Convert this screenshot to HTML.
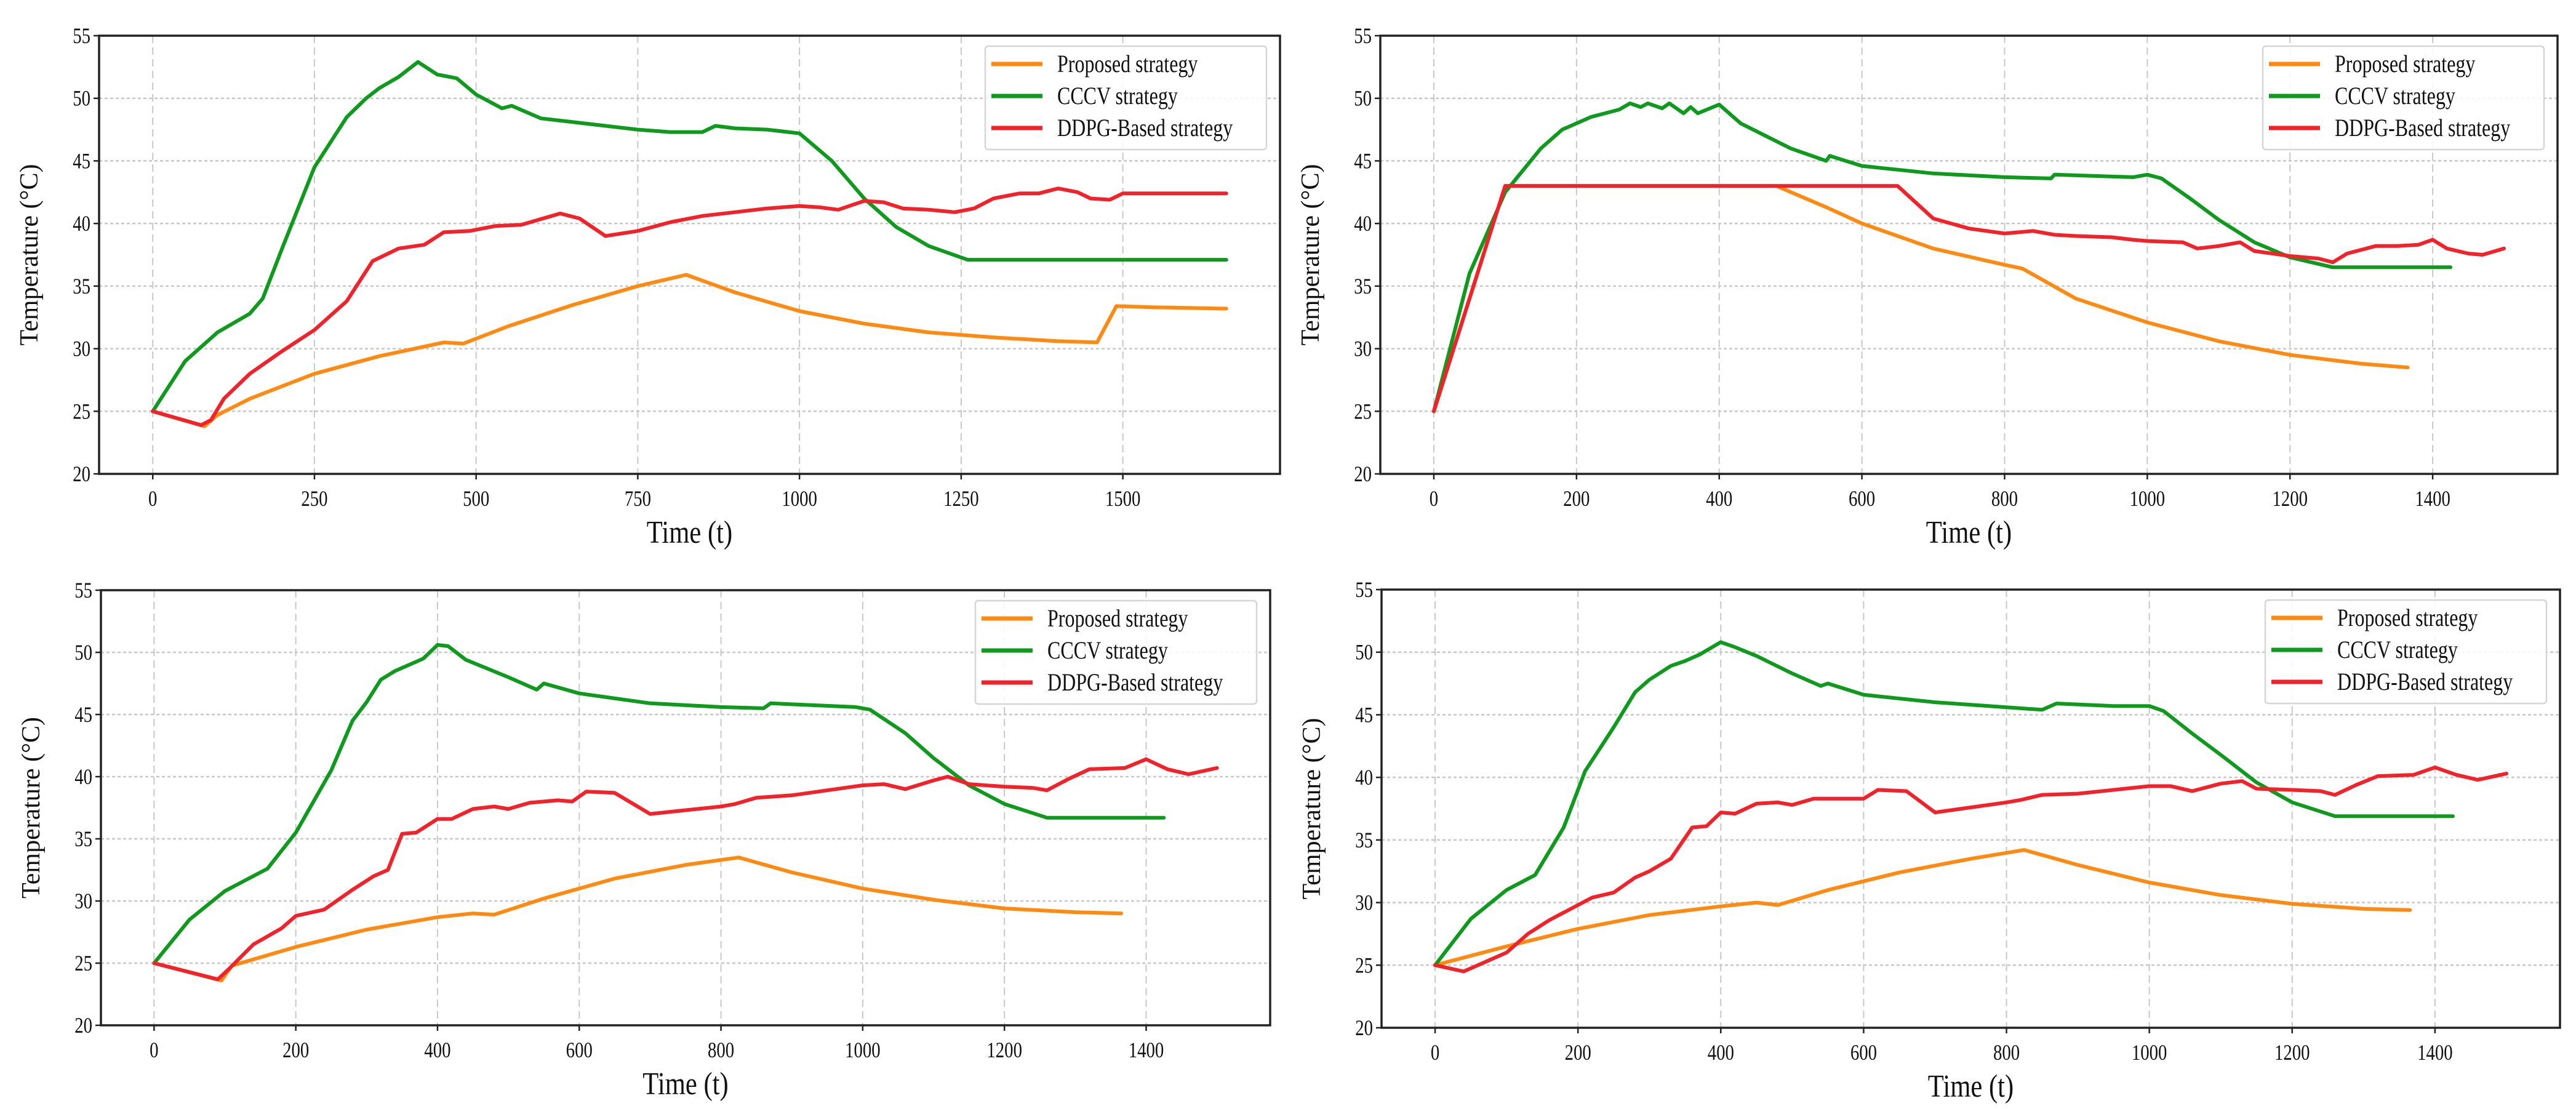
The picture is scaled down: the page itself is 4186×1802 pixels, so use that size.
<!DOCTYPE html>
<html><head><meta charset="utf-8"><style>
html,body{margin:0;padding:0;background:#fff;}
svg{display:block;font-family:"Liberation Serif",serif;}
</style></head><body>
<svg id="fig" width="4186" height="1802" viewBox="0 0 4186 1802" xmlns="http://www.w3.org/2000/svg"></svg>
<script>
// ---- Data (t, temperature) ----
const tlProposed=[[0,25],[80,23.8],[100,24.7],[150,26],[250,28],[350,29.4],[450,30.5],[480,30.4],[550,31.8],[650,33.5],[750,35],[825,35.9],[900,34.5],[1000,33],[1100,32],[1200,31.3],[1300,30.9],[1400,30.6],[1460,30.5],[1490,33.4],[1550,33.3],[1660,33.2]];
const tlCCCV=[[0,25],[50,29],[100,31.3],[150,32.8],[170,34],[200,38],[250,44.5],[300,48.5],[330,50],[350,50.8],[380,51.7],[410,52.9],[440,51.9],[470,51.6],[500,50.3],[540,49.2],[555,49.4],[600,48.4],[650,48.1],[700,47.8],[750,47.5],[800,47.3],[850,47.3],[870,47.8],[900,47.6],[950,47.5],[1000,47.2],[1050,45],[1100,42],[1150,39.7],[1200,38.2],[1260,37.1],[1660,37.1]];
const tlDDPG=[[0,25],[75,23.9],[90,24.3],[110,26],[150,28],[200,29.8],[250,31.5],[300,33.8],[340,37],[380,38],[420,38.3],[450,39.3],[490,39.4],[530,39.8],[570,39.9],[630,40.8],[660,40.4],[700,39],[750,39.4],[800,40.1],[850,40.6],[900,40.9],[950,41.2],[1000,41.4],[1030,41.3],[1060,41.1],[1100,41.8],[1130,41.7],[1160,41.2],[1200,41.1],[1240,40.9],[1270,41.2],[1300,42],[1340,42.4],[1370,42.4],[1400,42.8],[1430,42.5],[1450,42],[1480,41.9],[1500,42.4],[1660,42.4]];
const trProposed=[[0,25],[100,43],[480,43],[550,41.3],[600,40],[700,38],[800,36.7],[825,36.4],[900,34],[1000,32.1],[1100,30.6],[1200,29.5],[1300,28.8],[1365,28.5]];
const trCCCV=[[0,25],[50,36],[100,42.5],[150,46],[180,47.5],[220,48.5],[260,49.1],[275,49.6],[290,49.3],[300,49.6],[320,49.2],[330,49.6],[350,48.8],[360,49.3],[370,48.8],[400,49.5],[430,48],[500,46],[550,45],[555,45.4],[600,44.6],[700,44],[800,43.7],[865,43.6],[870,43.9],[980,43.7],[1000,43.9],[1020,43.6],[1060,42],[1100,40.3],[1150,38.5],[1200,37.3],[1260,36.5],[1425,36.5]];
const trDDPG=[[0,25],[100,43],[650,43],[700,40.4],[750,39.6],[800,39.2],[840,39.4],[870,39.1],[900,39],[950,38.9],[980,38.7],[1000,38.6],[1050,38.5],[1070,38],[1100,38.2],[1130,38.5],[1150,37.8],[1200,37.4],[1240,37.2],[1260,36.9],[1280,37.6],[1320,38.2],[1350,38.2],[1380,38.3],[1400,38.7],[1420,38],[1450,37.6],[1470,37.5],[1500,38]];
const blProposed=[[0,25],[95,23.6],[110,24.8],[200,26.3],[300,27.7],[400,28.7],[450,29],[480,28.9],[550,30.2],[650,31.8],[750,32.9],[825,33.5],[900,32.3],[1000,31],[1100,30.1],[1200,29.4],[1300,29.1],[1365,29]];
const blCCCV=[[0,25],[50,28.5],[100,30.8],[160,32.6],[200,35.5],[250,40.5],[280,44.5],[300,46],[320,47.8],[340,48.5],[360,49],[380,49.5],[400,50.6],[415,50.5],[440,49.4],[500,48],[540,47],[550,47.5],[600,46.7],[700,45.9],[800,45.6],[860,45.5],[870,45.9],[950,45.7],[990,45.6],[1010,45.4],[1060,43.5],[1100,41.5],[1150,39.3],[1200,37.8],[1260,36.7],[1425,36.7]];
const blDDPG=[[0,25],[90,23.7],[105,24.5],[140,26.5],[180,27.8],[200,28.8],[240,29.3],[280,30.9],[310,32],[330,32.5],[350,35.4],[370,35.5],[400,36.6],[420,36.6],[450,37.4],[480,37.6],[500,37.4],[530,37.9],[570,38.1],[590,38],[610,38.8],[650,38.7],[700,37],[750,37.3],[800,37.6],[820,37.8],[850,38.3],[900,38.5],[950,38.9],[1000,39.3],[1030,39.4],[1060,39],[1100,39.7],[1120,40],[1150,39.4],[1200,39.2],[1240,39.1],[1260,38.9],[1290,39.8],[1320,40.6],[1370,40.7],[1400,41.4],[1430,40.6],[1460,40.2],[1500,40.7]];
const brProposed=[[0,25],[100,26.5],[200,27.9],[300,29],[400,29.7],[450,30],[480,29.8],[550,31],[650,32.4],[750,33.5],[825,34.2],[900,33],[1000,31.6],[1100,30.6],[1200,29.9],[1300,29.5],[1365,29.4]];
const brCCCV=[[0,25],[50,28.7],[100,31],[140,32.2],[180,36],[210,40.5],[250,44],[280,46.8],[300,47.8],[330,48.9],[350,49.3],[370,49.8],[400,50.8],[420,50.4],[450,49.7],[500,48.3],[540,47.3],[550,47.5],[600,46.6],[700,46],[800,45.6],[850,45.4],[870,45.9],[950,45.7],[1000,45.7],[1020,45.3],[1060,43.5],[1100,41.8],[1150,39.6],[1200,38],[1260,36.9],[1425,36.9]];
const brDDPG=[[0,25],[40,24.5],[100,26],[130,27.5],[160,28.6],[200,29.8],[220,30.4],[250,30.8],[280,32],[300,32.5],[330,33.5],[360,36],[380,36.1],[400,37.2],[420,37.1],[450,37.9],[480,38],[500,37.8],[530,38.3],[570,38.3],[600,38.3],[620,39],[660,38.9],[700,37.2],[750,37.6],[800,38],[820,38.2],[850,38.6],[900,38.7],[950,39],[1000,39.3],[1030,39.3],[1060,38.9],[1100,39.5],[1130,39.7],[1150,39.1],[1200,39],[1240,38.9],[1260,38.6],[1290,39.4],[1320,40.1],[1370,40.2],[1400,40.8],[1430,40.2],[1460,39.8],[1500,40.3]];
const yTicks=[20,25,30,35,40,45,50,55];
const xTicksA=[0,250,500,750,1000,1250,1500];
const xTicksB=[0,200,400,600,800,1000,1200,1400];
const seriesNames=["Proposed strategy","CCCV strategy","DDPG-Based strategy"];
const colors=["#ff8a12","#0e9a1c","#f2222a"];

const NS="http://www.w3.org/2000/svg";
const fig=document.getElementById('fig');
function mk(tag,attrs,parent){const e=document.createElementNS(NS,tag);for(const k in attrs)e.setAttribute(k,attrs[k]);parent.appendChild(e);return e;}

const panels=[
 {id:'top-left',L:161,R:2080,T:58,B:770,xmin:-83,xmax:1743,xt:xTicksA,s:[tlProposed,tlCCCV,tlDDPG]},
 {id:'top-right',L:2243,R:4156,T:58,B:770,xmin:-75,xmax:1575,xt:xTicksB,s:[trProposed,trCCCV,trDDPG]},
 {id:'bottom-left',L:164,R:2064,T:959,B:1666,xmin:-75,xmax:1575,xt:xTicksB,s:[blProposed,blCCCV,blDDPG]},
 {id:'bottom-right',L:2245,R:4160,T:958,B:1670,xmin:-75,xmax:1575,xt:xTicksB,s:[brProposed,brCCCV,brDDPG]}
];
panels.forEach(p=>{
 const g=mk('g',{},fig);
 
 
 const X=v=>p.L+(v-p.xmin)/(p.xmax-p.xmin)*(p.R-p.L);
 const Y=v=>p.B-(v-20)/35*(p.B-p.T);
 p.xt.forEach(t=>{const l=mk('line',{x1:X(t),x2:X(t),y1:p.T,y2:p.B,stroke:'#c8c8c8','stroke-width':2,'stroke-dasharray':'12,7'},g);
  });
 yTicks.forEach(v=>{const l=mk('line',{x1:p.L,x2:p.R,y1:Y(v),y2:Y(v),stroke:'#c8c8c8','stroke-width':2.5,'stroke-dasharray':'5,4'},g);
  });
 p.s.forEach((d,i)=>{const path=mk('path',{d:d.map((q,j)=>(j?'L':'M')+X(q[0]).toFixed(1)+','+Y(q[1]).toFixed(1)).join(''),fill:'none',stroke:colors[i],'stroke-width':6,'stroke-linejoin':'round','stroke-linecap':'round'},g);
  });
 const fr=mk('rect',{x:p.L,y:p.T,width:p.R-p.L,height:p.B-p.T,fill:'none',stroke:'#222','stroke-width':3.5},g);
 
 yTicks.forEach(v=>{const tk=mk('line',{x1:p.L-9,x2:p.L,y1:Y(v),y2:Y(v),stroke:'#222','stroke-width':2.5},g);
  
  const tx=mk('text',{x:0,y:0,'font-size':36,'text-anchor':'end',fill:'#111',transform:`translate(${p.L-14},${Y(v)+12}) scale(0.8,1)`},g);tx.textContent=v;
  });
 p.xt.forEach(t=>{const tk=mk('line',{x1:X(t),x2:X(t),y1:p.B,y2:p.B+9,stroke:'#222','stroke-width':2.5},g);
  
  const tx=mk('text',{x:0,y:0,'font-size':36,'text-anchor':'middle',fill:'#111',transform:`translate(${X(t)},${p.B+52}) scale(0.8,1)`},g);tx.textContent=t;
  });
 const xt=mk('text',{x:0,y:0,'font-size':52,'text-anchor':'middle',fill:'#111',transform:`translate(${(p.L+p.R)/2},${p.B+112}) scale(0.82,1)`},g);xt.textContent='Time (t)';
 
 const yt=mk('text',{x:0,y:0,'font-size':42,'text-anchor':'middle',fill:'#111',transform:`translate(${p.L-100},${(p.T+p.B)/2}) rotate(-90)`},g);yt.textContent='Temperature (°C)';
 
 const lx=p.R-479,ly=p.T+17;
 const lg=mk('g',{},g);
 
 mk('rect',{x:lx,y:ly,width:457,height:168,rx:5,fill:'#fff','fill-opacity':0.85,stroke:'#d6d6d6','stroke-width':2.5},lg);
 seriesNames.forEach((n,i)=>{
  const yy=ly+29+i*52;
  const sw=mk('line',{x1:lx+10,x2:lx+93,y1:yy,y2:yy,stroke:colors[i],'stroke-width':7},lg);
  
  const tx=mk('text',{x:0,y:0,'font-size':40,fill:'#111',transform:`translate(${lx+117},${yy+13}) scale(0.8,1)`},lg);tx.textContent=n;
  
 });
});
</script>
</body></html>
